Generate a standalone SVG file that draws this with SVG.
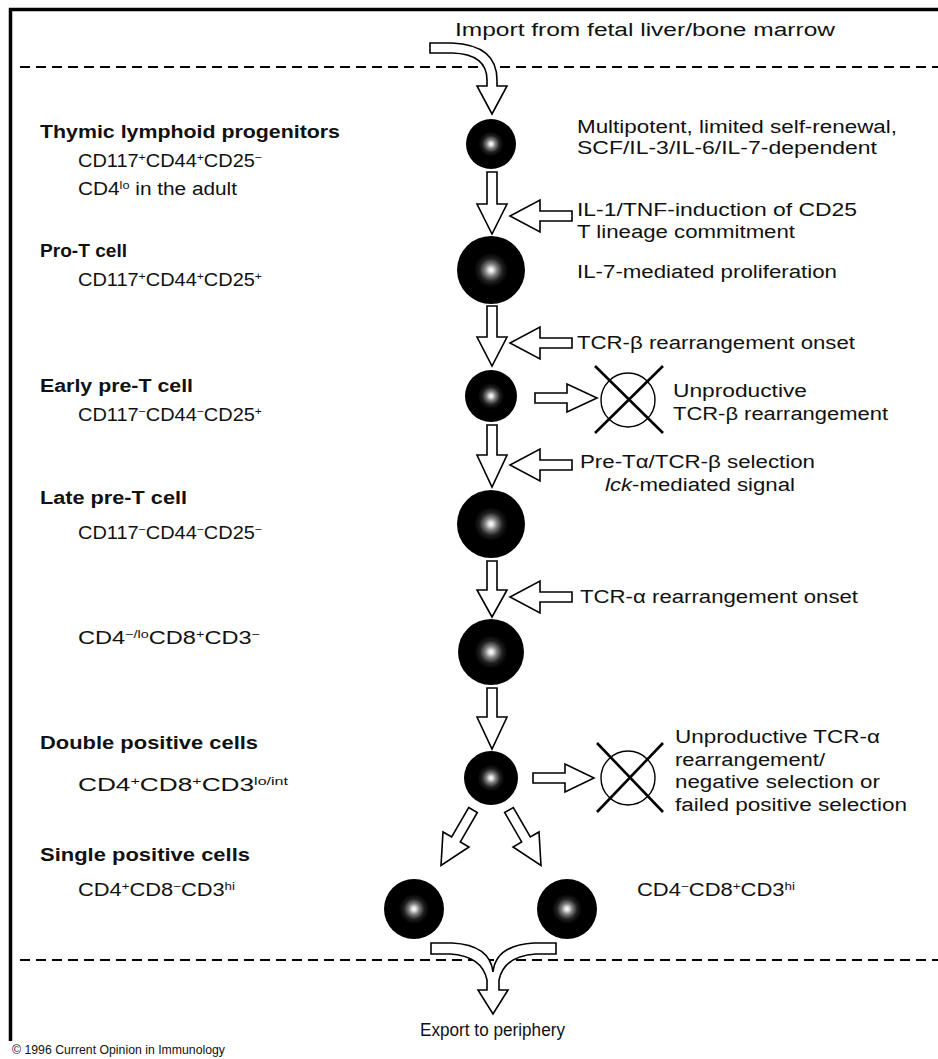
<svg xmlns="http://www.w3.org/2000/svg" width="938" height="1059" viewBox="0 0 938 1059">
<defs>
<radialGradient id="cellg" cx="0.5" cy="0.5" r="0.5">
<stop offset="0" stop-color="#ffffff"/>
<stop offset="0.07" stop-color="#e0e0e0"/>
<stop offset="0.18" stop-color="#808080"/>
<stop offset="0.34" stop-color="#202020"/>
<stop offset="0.5" stop-color="#000000"/>
<stop offset="1" stop-color="#000000"/>
</radialGradient>
<polygon id="vdown" points="-5,0 5,0 5,34 15,34 0,64 -15,34 -5,34"/>
</defs>
<style>
text{font-family:"Liberation Sans",Arial,Helvetica,sans-serif;fill:#111;font-size:18px}
.b{font-weight:bold;font-size:17.5px}
.sup{font-size:11px}
.arrow{fill:#fff;stroke:#000;stroke-width:1.6;stroke-linejoin:miter}
.cell{fill:url(#cellg)}
.dash{stroke:#000;stroke-width:2.2;stroke-dasharray:10 6;fill:none}
.xc{fill:#fff;stroke:#000;stroke-width:1.4}
.xl{stroke:#000;stroke-width:2.6}
.frame{stroke:#000;stroke-width:3.5;fill:none}
</style>
<rect width="938" height="1059" fill="#fff"/>
<g id="frame">
<line class="frame" x1="9" y1="9.5" x2="938" y2="9.5"/>
<line class="frame" x1="10.5" y1="8" x2="10.5" y2="1041"/>
<line class="dash" x1="20" y1="67" x2="938" y2="67"/>
<line class="dash" x1="20" y1="960" x2="938" y2="960"/>
</g>
<g id="connectors">
<path class="arrow" d="M430,43 L452,43 Q497,45 497,80 L497,86 L507,86 L492,114 L477,86 L487,86 L487,80 Q487,54 452,53 L430,53 Z"/>
<polygon class="arrow" points="487,172 497,172 497,204 507,204 492,234 477,204 487,204"/>
<polygon class="arrow" points="487,306 497,306 497,337 507,337 492,366 477,337 487,337"/>
<polygon class="arrow" points="487,425 497,425 497,455 507,455 492,487 477,455 487,455"/>
<polygon class="arrow" points="487,561 497,561 497,590 507,590 492,617 477,590 487,590"/>
<polygon class="arrow" points="487,688 497,688 497,717 507,717 492,749 477,717 487,717"/>
<polygon class="arrow" points="572,211 572,221 540,221 540,232 510,216 540,200 540,211"/>
<polygon class="arrow" points="572,338 572,348 540,348 540,359 510,343 540,327 540,338"/>
<polygon class="arrow" points="572,460 572,470 540,470 540,481 510,465 540,449 540,460"/>
<polygon class="arrow" points="572,592 572,602 540,602 540,613 510,597 540,581 540,592"/>
<polygon class="arrow" points="535,393 567,393 567,384 597,398 567,412 567,403 535,403"/>
<polygon class="arrow" points="533,773 565,773 565,764 594,778 565,792 565,783 533,783"/>
<use href="#vdown" class="arrow" transform="translate(473,810) rotate(30)"/>
<use href="#vdown" class="arrow" transform="translate(509,810) rotate(-30)"/>
<path class="arrow" d="M431,943 L452,943 Q490,945 493,972 Q496,945 534,943 L556,943 L556,954 L536,954 Q504,956 499,980 L499,990 L508,990 L493,1014 L478,990 L487,990 L487,980 Q482,956 450,954 L431,954 Z"/>
</g>
<g id="node-tlp">
<circle class="cell" cx="491" cy="144" r="25"/>
<text class="b" x="40" y="138" textLength="300" lengthAdjust="spacingAndGlyphs">Thymic lymphoid progenitors</text>
<text x="78" y="167" textLength="184" lengthAdjust="spacingAndGlyphs">CD117<tspan class="sup" dy="-6">+</tspan><tspan dy="6">CD44</tspan><tspan class="sup" dy="-6">+</tspan><tspan dy="6">CD25</tspan><tspan class="sup" dy="-6">−</tspan></text>
<text x="78" y="195" textLength="159" lengthAdjust="spacingAndGlyphs">CD4<tspan class="sup" dy="-6">lo</tspan><tspan dy="6"> in the adult</tspan></text>
<text x="577" y="133" textLength="320" lengthAdjust="spacingAndGlyphs">Multipotent, limited self-renewal,</text>
<text x="577" y="154" textLength="300" lengthAdjust="spacingAndGlyphs">SCF/IL-3/IL-6/IL-7-dependent</text>
</g>
<g id="label-il1">
<text x="577" y="216" textLength="280" lengthAdjust="spacingAndGlyphs">IL-1/TNF-induction of CD25</text>
<text x="577" y="238" textLength="218" lengthAdjust="spacingAndGlyphs">T lineage commitment</text>
</g>
<g id="node-prot">
<circle class="cell" cx="491" cy="270" r="34"/>
<text class="b" x="40" y="257" textLength="87" lengthAdjust="spacingAndGlyphs">Pro-T cell</text>
<text x="78" y="286" textLength="184" lengthAdjust="spacingAndGlyphs">CD117<tspan class="sup" dy="-6">+</tspan><tspan dy="6">CD44</tspan><tspan class="sup" dy="-6">+</tspan><tspan dy="6">CD25</tspan><tspan class="sup" dy="-6">+</tspan></text>
<text x="577" y="278" textLength="260" lengthAdjust="spacingAndGlyphs">IL-7-mediated proliferation</text>
</g>
<g id="label-tcrb">
<text x="577" y="349" textLength="278" lengthAdjust="spacingAndGlyphs">TCR-β rearrangement onset</text>
</g>
<g id="node-earlypret">
<circle class="cell" cx="491" cy="396" r="26"/>
<text class="b" x="40" y="392" textLength="153" lengthAdjust="spacingAndGlyphs">Early pre-T cell</text>
<text x="78" y="421" textLength="184" lengthAdjust="spacingAndGlyphs">CD117<tspan class="sup" dy="-6">−</tspan><tspan dy="6">CD44</tspan><tspan class="sup" dy="-6">−</tspan><tspan dy="6">CD25</tspan><tspan class="sup" dy="-6">+</tspan></text>
</g>
<g id="node-death1">
<circle class="xc" cx="628" cy="400" r="27"/>
<line class="xl" x1="595" y1="366" x2="663" y2="433"/>
<line class="xl" x1="663" y1="366" x2="595" y2="433"/>
<text x="673" y="397" textLength="134" lengthAdjust="spacingAndGlyphs">Unproductive</text>
<text x="673" y="420" textLength="215" lengthAdjust="spacingAndGlyphs">TCR-β rearrangement</text>
</g>
<g id="label-preta">
<text x="580" y="468" textLength="235" lengthAdjust="spacingAndGlyphs">Pre-Tα/TCR-β selection</text>
<text x="605" y="491" textLength="190" lengthAdjust="spacingAndGlyphs"><tspan font-style="italic">lck</tspan>-mediated signal</text>
</g>
<g id="node-latepret">
<circle class="cell" cx="491" cy="524" r="34"/>
<text class="b" x="40" y="504" textLength="147" lengthAdjust="spacingAndGlyphs">Late pre-T cell</text>
<text x="78" y="539" textLength="184" lengthAdjust="spacingAndGlyphs">CD117<tspan class="sup" dy="-6">−</tspan><tspan dy="6">CD44</tspan><tspan class="sup" dy="-6">−</tspan><tspan dy="6">CD25</tspan><tspan class="sup" dy="-6">−</tspan></text>
</g>
<g id="label-tcra">
<text x="580" y="603" textLength="278" lengthAdjust="spacingAndGlyphs">TCR-α rearrangement onset</text>
</g>
<g id="node-cd8isp">
<circle class="cell" cx="491" cy="652" r="33"/>
<text x="78" y="644" textLength="182" lengthAdjust="spacingAndGlyphs">CD4<tspan class="sup" dy="-6">−/lo</tspan><tspan dy="6">CD8</tspan><tspan class="sup" dy="-6">+</tspan><tspan dy="6">CD3</tspan><tspan class="sup" dy="-6">−</tspan></text>
</g>
<g id="node-dp">
<circle class="cell" cx="491" cy="778" r="27"/>
<text class="b" x="40" y="749" textLength="218" lengthAdjust="spacingAndGlyphs">Double positive cells</text>
<text x="78" y="791" textLength="210" lengthAdjust="spacingAndGlyphs">CD4<tspan class="sup" dy="-6">+</tspan><tspan dy="6">CD8</tspan><tspan class="sup" dy="-6">+</tspan><tspan dy="6">CD3</tspan><tspan class="sup" dy="-6">lo/int</tspan></text>
</g>
<g id="node-death2">
<circle class="xc" cx="628" cy="778" r="27"/>
<line class="xl" x1="597" y1="743" x2="663" y2="812"/>
<line class="xl" x1="663" y1="743" x2="597" y2="812"/>
<text x="675" y="743" textLength="205" lengthAdjust="spacingAndGlyphs">Unproductive TCR-α</text>
<text x="675" y="766" textLength="150" lengthAdjust="spacingAndGlyphs">rearrangement/</text>
<text x="675" y="788" textLength="205" lengthAdjust="spacingAndGlyphs">negative selection or</text>
<text x="675" y="811" textLength="232" lengthAdjust="spacingAndGlyphs">failed positive selection</text>
</g>
<g id="node-sp4">
<circle class="cell" cx="414" cy="909" r="30"/>
<text class="b" x="40" y="861" textLength="210" lengthAdjust="spacingAndGlyphs">Single positive cells</text>
<text x="78" y="896" textLength="157" lengthAdjust="spacingAndGlyphs">CD4<tspan class="sup" dy="-6">+</tspan><tspan dy="6">CD8</tspan><tspan class="sup" dy="-6">−</tspan><tspan dy="6">CD3</tspan><tspan class="sup" dy="-6">hi</tspan></text>
</g>
<g id="node-sp8">
<circle class="cell" cx="567" cy="909" r="30"/>
<text x="637" y="896" textLength="158" lengthAdjust="spacingAndGlyphs">CD4<tspan class="sup" dy="-6">−</tspan><tspan dy="6">CD8</tspan><tspan class="sup" dy="-6">+</tspan><tspan dy="6">CD3</tspan><tspan class="sup" dy="-6">hi</tspan></text>
</g>
<g id="labels">
<text x="455" y="36" textLength="380" lengthAdjust="spacingAndGlyphs">Import from fetal liver/bone marrow</text>
<text x="420" y="1036" textLength="145" lengthAdjust="spacingAndGlyphs">Export to periphery</text>
<text x="12" y="1054" style="font-size:12px" textLength="213" lengthAdjust="spacingAndGlyphs">© 1996 Current Opinion in Immunology</text>
</g>
</svg>
